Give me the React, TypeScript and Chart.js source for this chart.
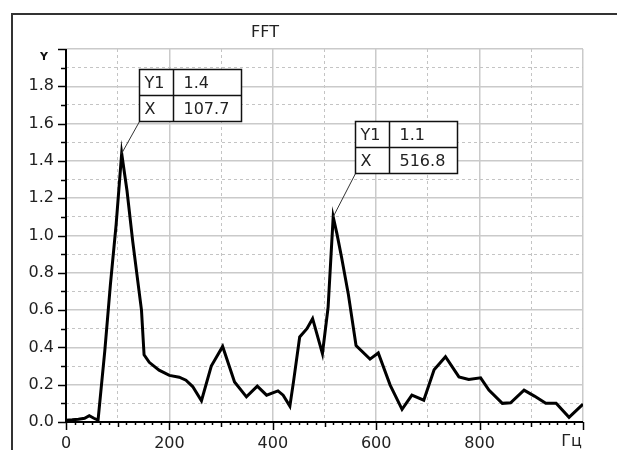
import React, { useEffect, useRef } from 'react';
import { Chart, registerables } from 'chart.js';

Chart.register(...registerables);

// ---- data ----
const titleText = 'FFT';
const yAxisName = 'Y';
const xUnit = 'Гц';

const freqs = [
  0, 12, 24, 36, 45, 54, 62, 75, 86, 97, 107.7, 118, 129, 140, 146, 151, 161, 180, 200, 219,
  232, 245, 262, 281, 303, 326, 349, 370, 388, 410, 420, 433, 440, 452, 466, 477, 496, 507,
  516.8, 524, 533, 546, 561, 588, 604, 627, 650, 669, 692, 712, 734, 760, 779, 802, 818, 844,
  860, 886, 906, 928, 948, 973, 1000,
];
const amps = [
  0.01, 0.012, 0.015, 0.02, 0.034, 0.02, 0.01, 0.38, 0.74, 1.06, 1.44, 1.24, 0.97, 0.73, 0.6,
  0.36, 0.32, 0.278, 0.25, 0.24, 0.224, 0.19, 0.114, 0.3, 0.405, 0.215, 0.135, 0.192, 0.144,
  0.167, 0.144, 0.085, 0.215, 0.456, 0.5, 0.554, 0.367, 0.616, 1.1, 1.01, 0.883, 0.687, 0.41,
  0.337, 0.37, 0.198, 0.068, 0.144, 0.117, 0.28, 0.35, 0.242, 0.228, 0.237, 0.171, 0.1, 0.103,
  0.171, 0.139, 0.1, 0.1, 0.025, 0.096,
];

const xMajorLabels = [0, 200, 400, 600, 800];
const peakFreqs = [107.7, 516.8];
const peakAmps = [1.44, 1.1];

const FONT = '"DejaVu Sans", sans-serif';

const decorPlugin = {
  id: 'fftDecor',
  beforeDraw(chart: any) {
    const ctx = chart.ctx;
    ctx.save();
    ctx.fillStyle = '#ffffff';
    ctx.fillRect(0, 0, chart.width, chart.height);
    ctx.restore();
  },
  afterDraw(chart: any) {
    const ctx = chart.ctx as CanvasRenderingContext2D;
    const a = chart.chartArea;
    const xs = chart.scales.x;
    const ys = chart.scales.y;
    const line = (x1: number, y1: number, x2: number, y2: number) => {
      ctx.beginPath();
      ctx.moveTo(x1, y1);
      ctx.lineTo(x2, y2);
      ctx.stroke();
    };
    ctx.save();
    // outer frame
    ctx.strokeStyle = '#333';
    ctx.lineWidth = 2;
    ctx.beginPath();
    ctx.moveTo(12, chart.height);
    ctx.lineTo(12, 14);
    ctx.lineTo(chart.width, 14);
    ctx.stroke();

    // title
    ctx.fillStyle = '#222';
    ctx.font = '16px ' + FONT;
    ctx.textAlign = 'center';
    ctx.textBaseline = 'middle';
    ctx.fillText(titleText, 265, 33);

    // axis lines
    ctx.strokeStyle = '#000';
    ctx.lineWidth = 2;
    ctx.beginPath();
    ctx.moveTo(a.left, a.top);
    ctx.lineTo(a.left, a.bottom);
    ctx.lineTo(a.right, a.bottom);
    ctx.stroke();

    // y ticks
    ctx.lineWidth = 1.5;
    for (let k = 0; k <= 20; k++) {
      const y = Math.round(ys.getPixelForValue(k / 10)) + 0.5;
      const len = k % 2 === 0 ? 8 : 5;
      line(a.left - len, y, a.left, y);
    }
    // x ticks
    for (let k = 0; k <= 60; k++) {
      const x = Math.round(xs.getPixelForValue((k * 100) / 6)) + 0.5;
      const len = k % 12 === 0 ? 8 : k % 6 === 0 ? 5 : 3;
      line(x, a.bottom, x, a.bottom + len);
    }

    // axis name & unit
    ctx.fillStyle = '#111';
    ctx.font = 'bold 11px ' + FONT;
    ctx.textAlign = 'center';
    ctx.textBaseline = 'middle';
    ctx.fillText(yAxisName, 44, 57);
    ctx.fillStyle = '#222';
    ctx.font = '16px ' + FONT;
    ctx.textAlign = 'right';
    ctx.textBaseline = 'top';
    ctx.fillText(xUnit, a.right - 1, a.bottom + 12);

    // callouts
    const offsets = [
      [17, -32],
      [22, -44],
    ];
    const bw = 102;
    const bh = 52;
    const col = 34;
    peakFreqs.forEach((f, i) => {
      const px = xs.getPixelForValue(f);
      const py = ys.getPixelForValue(peakAmps[i]);
      const bx = Math.round(px + offsets[i][0]) + 0.5;
      const by = Math.round(py + offsets[i][1]) + 0.5; // bottom of box
      const top = by - bh;
      // leader
      ctx.strokeStyle = '#333';
      ctx.lineWidth = 1;
      line(bx, by, px, py);
      // box
      ctx.fillStyle = '#fff';
      ctx.fillRect(bx, top, bw, bh);
      ctx.strokeStyle = '#111';
      ctx.lineWidth = 1.5;
      ctx.strokeRect(bx, top, bw, bh);
      line(bx, top + bh / 2, bx + bw, top + bh / 2);
      line(bx + col, top, bx + col, by);
      ctx.fillStyle = '#222';
      ctx.font = '16px ' + FONT;
      ctx.textAlign = 'left';
      ctx.textBaseline = 'middle';
      ctx.fillText('Y1', bx + 5, top + bh / 4 + 1);
      ctx.fillText('X', bx + 5, top + (3 * bh) / 4 + 1);
      ctx.fillText(peakAmps[i].toFixed(1), bx + 44, top + bh / 4 + 1);
      ctx.fillText(f.toFixed(1), bx + 44, top + (3 * bh) / 4 + 1);
    });
    ctx.restore();
  },
};

export default function App() {
  const ref = useRef<HTMLCanvasElement | null>(null);
  useEffect(() => {
    if (!ref.current) return;
    const isOddY = (v: number) => Math.round(v * 10) % 2 !== 0;
    const isMinorX = (v: number) => Math.round(v) % 200 !== 0;
    const chart = new Chart(ref.current, {
      type: 'line',
      data: {
        datasets: [
          {
            data: freqs.map((f, i) => ({ x: f, y: amps[i] })),
            borderColor: '#000',
            borderWidth: 3,
            pointRadius: 0,
            tension: 0,
            fill: false,
          },
        ],
      },
      options: {
        animation: false,
        responsive: false,
        events: [],
        layout: { padding: { left: 0, right: 34, top: 49, bottom: 0 } },
        plugins: { legend: { display: false }, tooltip: { enabled: false }, title: { display: false } },
        scales: {
          x: {
            type: 'linear',
            min: 0,
            max: 1000,
            afterFit: (s: any) => {
              s.height = 28;
            },
            grid: {
              drawTicks: false,
              color: (c: any) => (c.tick && isMinorX(c.tick.value) ? '#c4c4c4' : '#cacaca'),
              lineWidth: (c: any) => (c.tick && isMinorX(c.tick.value) ? 1 : 1.5),
            },
            border: {
              display: false,
              dash: (c: any) => (c.tick && isMinorX(c.tick.value) ? [3, 3] : []),
            },
            ticks: {
              stepSize: 100,
              autoSkip: false,
              maxRotation: 0,
              padding: 12,
              color: '#222',
              font: { family: FONT, size: 16 },
              callback: (v: any) => (xMajorLabels.includes(Math.round(Number(v))) ? String(Math.round(Number(v))) : ''),
            },
          },
          y: {
            type: 'linear',
            min: 0,
            max: 2,
            afterFit: (s: any) => {
              s.width = 66;
            },
            grid: {
              drawTicks: false,
              color: (c: any) => (c.tick && isOddY(c.tick.value) ? '#c4c4c4' : '#cacaca'),
              lineWidth: (c: any) => (c.tick && isOddY(c.tick.value) ? 1 : 1.5),
            },
            border: {
              display: false,
              dash: (c: any) => (c.tick && isOddY(c.tick.value) ? [3, 3] : []),
            },
            ticks: {
              stepSize: 0.1,
              autoSkip: false,
              padding: 12,
              color: '#222',
              font: { family: FONT, size: 16 },
              callback: (v: any) => {
                const k = Math.round(Number(v) * 10);
                if (k % 2 !== 0 || k >= 20) return '';
                return (k / 10).toFixed(1);
              },
            },
          },
        },
      },
      plugins: [decorPlugin],
    } as any);
    return () => chart.destroy();
  }, []);
  return (
    <div style={{ position: 'absolute', left: 0, top: 0, width: 617, height: 450 }}>
      <canvas ref={ref} width={617} height={450} style={{ display: 'block' }} />
    </div>
  );
}
